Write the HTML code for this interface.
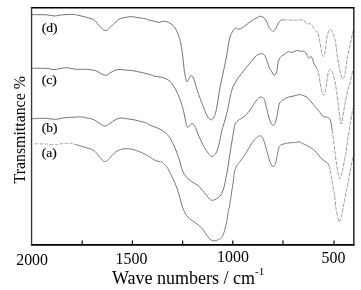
<!DOCTYPE html>
<html><head><meta charset="utf-8"><style>
html,body{margin:0;padding:0;background:#fff;}
body{width:361px;height:290px;overflow:hidden;position:relative;}
svg{position:absolute;left:0;top:0;filter:grayscale(1);}
</style></head><body>
<svg width="361" height="290" viewBox="0 0 361 290">
<g fill="none" stroke-linejoin="round" stroke-linecap="butt">
<path d="M31.5,14.7 C32.9,14.7 37.3,14.7 40.0,14.7 C42.7,14.7 45.1,14.7 47.5,14.9 C49.9,15.1 52.3,15.9 54.2,16.0 C56.1,16.1 57.4,15.5 59.0,15.3 C60.6,15.1 61.9,14.8 64.0,14.7 C66.1,14.5 69.6,14.4 71.7,14.4 C73.8,14.4 74.9,14.6 76.5,14.9 C78.1,15.2 79.8,15.6 81.4,16.0 C83.0,16.4 84.6,16.9 86.2,17.3 C87.8,17.8 89.6,18.1 91.1,18.7 C92.6,19.3 93.5,19.4 95.0,20.7 C96.5,22.0 98.3,25.0 100.0,26.7 C101.7,28.4 103.6,30.5 105.3,30.6 C107.0,30.7 108.4,28.9 110.0,27.5 C111.6,26.1 113.3,24.0 115.0,22.5 C116.7,21.0 118.3,19.5 120.0,18.7 C121.7,17.9 123.1,17.8 125.0,17.5 C126.9,17.2 129.1,16.6 131.6,16.7 C134.1,16.8 137.8,17.7 140.0,18.0 C142.2,18.3 143.3,18.3 145.0,18.7 C146.7,19.1 148.3,19.9 150.0,20.3 C151.7,20.7 153.5,20.9 155.0,21.3 C156.5,21.7 157.8,22.5 159.2,22.5 C160.6,22.5 161.8,21.2 163.3,21.2 C164.8,21.1 166.6,21.4 168.3,22.2 C170.0,23.0 171.9,24.4 173.3,25.8 C174.7,27.2 175.7,28.7 176.7,30.8 C177.7,32.9 178.8,35.9 179.5,38.3 C180.2,40.7 180.5,41.9 181.1,45.0 C181.7,48.1 182.3,53.0 182.8,57.0 C183.3,61.0 183.7,65.6 184.1,69.0 C184.5,72.4 185.0,75.4 185.5,77.5 C186.0,79.6 186.4,81.6 187.0,81.8 C187.6,82.0 188.3,79.6 189.0,78.6 C189.7,77.6 190.2,75.7 191.0,75.6 C191.8,75.5 192.6,76.3 193.5,78.2 C194.4,80.1 195.4,84.5 196.2,87.0 C197.0,89.5 197.6,91.6 198.3,93.5 C199.0,95.4 199.4,96.3 200.2,98.5 C201.0,100.7 202.2,103.9 203.3,106.7 C204.4,109.5 205.8,113.3 207.0,115.5 C208.2,117.7 209.6,119.5 210.8,119.8 C212.0,120.0 213.1,118.9 214.1,117.0 C215.1,115.1 215.9,111.7 216.6,108.5 C217.3,105.3 217.8,101.1 218.3,98.0 C218.8,94.9 219.1,93.0 219.6,90.0 C220.1,87.0 220.8,83.6 221.6,80.0 C222.3,76.4 223.3,72.3 224.1,68.3 C224.9,64.3 225.8,60.7 226.6,56.0 C227.4,51.3 228.4,43.8 229.2,40.0 C230.0,36.2 230.8,35.1 231.6,33.3 C232.4,31.5 233.4,30.1 234.1,29.2 C234.8,28.3 235.0,28.0 235.8,28.0 C236.7,28.0 237.9,29.4 239.2,29.2 C240.4,29.0 241.8,28.0 243.3,27.0 C244.8,26.0 246.6,24.5 248.3,23.3 C250.0,22.1 251.6,20.8 253.3,19.7 C255.0,18.6 257.1,17.6 258.3,17.0 C259.6,16.4 259.8,16.1 260.8,16.3 C261.8,16.5 263.1,17.1 264.1,18.0 C265.1,18.9 265.8,20.1 266.6,21.7 C267.4,23.3 268.3,26.1 269.1,27.5 C269.9,28.9 270.9,29.7 271.6,30.3 C272.3,30.9 272.6,31.6 273.3,31.3 C274.0,31.0 275.0,29.6 275.8,28.3 C276.6,27.0 277.5,24.6 278.3,23.3 C279.1,22.0 280.0,20.9 280.8,20.3 C281.6,19.8 281.8,20.1 283.3,20.0" stroke="#727272" stroke-width="1"/>
<path d="M283.3,20.0 C284.8,19.9 287.8,19.9 290.0,20.0 C292.2,20.1 294.9,20.3 296.6,20.3 C298.3,20.3 298.9,19.7 300.0,19.8 C301.1,19.8 302.4,20.1 303.3,20.5 C304.2,20.9 304.8,21.6 305.5,22.2 C306.2,22.8 307.1,24.0 307.8,24.2 C308.6,24.4 309.3,23.3 310.0,23.5 C310.7,23.7 311.5,24.5 312.2,25.5 C312.9,26.5 313.8,28.4 314.4,29.4 C315.0,30.4 315.5,30.8 316.1,31.3 C316.7,31.8 317.3,31.3 317.8,32.2 C318.3,33.1 318.6,35.0 318.9,36.6 C319.2,38.2 319.5,39.9 319.8,41.6 C320.1,43.3 320.4,45.0 320.8,47.0 C321.2,49.0 321.6,51.9 322.0,53.5 C322.4,55.1 323.0,56.8 323.5,56.5 C324.0,56.2 324.8,54.1 325.2,51.7 C325.6,49.3 325.8,45.0 326.2,42.0 C326.6,39.0 327.1,35.6 327.8,33.5 C328.5,31.4 329.5,29.1 330.5,29.4 C331.5,29.7 333.0,33.5 333.8,35.5 C334.6,37.5 335.0,38.9 335.5,41.6 C336.0,44.3 336.2,48.0 336.7,51.7 C337.2,55.4 338.1,60.8 338.7,64.0 C339.2,67.2 339.5,68.8 340.0,71.0 C340.5,73.2 341.2,75.7 341.6,77.0 C342.1,78.3 342.2,79.2 342.7,79.0 C343.2,78.8 344.1,77.3 344.6,76.0 C345.1,74.7 345.0,74.2 345.5,71.0 C346.0,67.8 346.8,61.0 347.5,56.7 C348.2,52.4 349.3,48.1 350.0,45.0 C350.7,41.9 351.2,40.0 351.6,38.0 C352.0,36.0 352.3,34.2 352.5,33.0 C352.7,31.8 352.9,31.3 353.0,31.0" stroke="#9e9e9e" stroke-width="1" stroke-dasharray="4 1.2"/>
<path d="M31.5,68.3 C34.1,68.3 43.4,68.2 47.0,68.4 C50.6,68.6 51.1,69.6 53.3,69.6 C55.5,69.6 57.8,68.9 60.0,68.6 C62.2,68.3 64.0,67.7 66.8,67.8 C69.5,67.9 73.3,69.0 76.5,69.3 C79.7,69.5 83.8,69.2 86.2,69.3 C88.6,69.4 89.5,69.5 91.1,69.8 C92.7,70.0 94.5,70.3 96.0,70.8 C97.5,71.3 98.4,72.2 100.0,73.0 C101.6,73.8 104.1,75.3 105.8,75.3 C107.5,75.3 108.5,73.8 110.0,73.0 C111.5,72.2 113.3,70.9 115.0,70.3 C116.7,69.7 118.3,69.5 120.0,69.5 C121.7,69.5 122.8,69.8 125.0,70.0 C127.2,70.2 130.5,70.4 133.3,70.8 C136.1,71.2 138.8,71.9 141.6,72.5 C144.4,73.1 147.8,74.0 150.0,74.6 C152.2,75.2 153.3,75.9 155.0,76.3 C156.7,76.7 158.3,76.7 160.0,77.0 C161.7,77.3 163.3,77.6 165.0,78.3 C166.7,79.0 168.5,79.9 170.0,81.3 C171.5,82.7 172.8,84.7 174.1,86.7 C175.3,88.7 176.4,91.0 177.5,93.3 C178.6,95.6 179.7,98.4 180.5,100.8 C181.3,103.2 182.0,105.5 182.6,107.5 C183.2,109.5 183.6,111.1 184.0,113.0 C184.4,114.9 184.8,117.1 185.2,119.0 C185.6,120.9 185.8,122.9 186.2,124.3 C186.6,125.7 187.0,127.5 187.6,127.6 C188.2,127.7 189.2,125.6 190.0,125.0 C190.8,124.4 191.6,123.4 192.5,123.8 C193.4,124.2 194.5,125.6 195.5,127.5 C196.5,129.4 197.3,132.6 198.3,135.0 C199.3,137.4 200.6,139.9 201.6,142.0 C202.6,144.1 203.4,145.6 204.5,147.5 C205.6,149.4 207.1,151.8 208.3,153.3 C209.5,154.8 210.3,156.7 211.6,156.7 C212.8,156.7 214.7,155.0 215.8,153.3 C216.9,151.6 217.6,149.2 218.3,146.7 C219.1,144.2 219.7,141.1 220.3,138.3 C220.9,135.5 221.2,133.1 222.0,130.0 C222.8,127.0 223.9,123.9 225.0,120.0 C226.1,116.1 227.5,110.5 228.3,106.7 C229.1,103.0 229.3,100.6 230.0,97.5 C230.7,94.4 231.4,90.9 232.5,88.0 C233.6,85.1 235.2,82.5 236.7,80.0 C238.2,77.5 239.8,75.8 241.7,73.3 C243.6,70.8 246.4,67.3 248.3,65.0 C250.2,62.6 251.9,60.8 253.3,59.2 C254.7,57.6 255.4,56.2 256.7,55.3 C257.9,54.4 259.6,53.8 260.8,53.7 C262.1,53.6 263.2,53.7 264.2,54.7 C265.2,55.8 265.9,57.9 266.7,60.0 C267.5,62.1 268.4,65.5 269.2,67.5 C270.0,69.5 270.9,70.4 271.7,71.7 C272.5,73.0 273.4,75.3 274.2,75.3 C275.0,75.3 276.0,74.0 276.7,71.7 C277.4,69.4 277.6,64.2 278.3,61.7 C279.0,59.2 279.8,57.9 280.8,56.7 C281.8,55.5 282.9,55.5 284.2,54.7 C285.4,53.9 287.1,52.1 288.3,51.7 C289.6,51.3 290.3,52.7 291.7,52.5 C293.1,52.3 295.2,50.7 296.7,50.5 C298.2,50.3 299.6,51.2 300.8,51.3 C302.1,51.4 303.2,50.8 304.2,51.3 C305.2,51.8 305.9,53.0 306.7,54.2 C307.4,55.4 308.0,57.9 308.7,58.3 C309.4,58.6 310.2,56.1 310.8,56.3 C311.4,56.4 311.9,57.9 312.5,59.2 C313.1,60.5 313.5,62.7 314.2,64.2 C314.9,65.7 316.0,67.0 316.7,68.3" stroke="#727272" stroke-width="1"/>
<path d="M316.7,68.3 C317.4,69.6 317.8,70.2 318.3,72.0 C318.8,73.8 319.1,76.8 319.5,79.0 C319.9,81.2 320.1,82.8 320.5,85.0 C320.9,87.2 321.6,90.4 322.1,92.1 C322.6,93.8 323.1,95.2 323.6,95.2 C324.1,95.2 324.7,94.2 325.2,92.1 C325.7,90.0 326.2,86.1 326.7,82.8 C327.2,79.5 327.8,74.7 328.3,72.5 C328.9,70.3 329.3,69.7 330.0,69.7 C330.7,69.7 331.7,70.5 332.5,72.5 C333.3,74.5 334.3,78.6 335.0,81.7 C335.7,84.8 335.9,87.0 336.5,91.0 C337.1,95.0 337.9,101.8 338.4,106.0 C338.9,110.2 339.2,113.0 339.6,116.0 C340.0,119.0 340.5,123.7 341.0,124.0 C341.5,124.3 342.0,121.0 342.6,118.0 C343.2,115.0 343.8,110.6 344.6,106.0 C345.5,101.4 346.8,94.3 347.7,90.5 C348.6,86.7 349.4,85.4 350.0,83.0 C350.6,80.6 351.0,78.2 351.5,76.0 C352.0,73.8 352.8,71.0 353.0,70.0" stroke="#9e9e9e" stroke-width="1" stroke-dasharray="4 1.2"/>
<path d="M31.5,118.8 C33.7,118.7 40.7,118.2 44.5,118.3 C48.3,118.4 51.8,119.2 54.2,119.3 C56.6,119.4 57.5,119.0 59.1,118.8 C60.7,118.5 61.9,118.0 64.0,117.8 C66.1,117.5 68.8,117.4 71.7,117.3 C74.6,117.2 78.8,116.8 81.4,116.9 C84.0,117.0 85.6,117.7 87.2,118.0 C88.8,118.3 89.8,118.4 91.1,118.8 C92.4,119.2 93.5,119.5 95.0,120.3 C96.5,121.1 98.3,122.7 100.0,123.7 C101.7,124.7 103.3,126.3 105.0,126.2 C106.7,126.1 108.3,124.3 110.0,123.3 C111.7,122.3 113.3,120.9 115.0,120.0 C116.7,119.1 118.1,118.2 120.0,118.0 C121.9,117.8 124.1,118.4 126.6,118.7 C129.1,119.0 132.5,119.5 135.0,120.0 C137.5,120.5 139.7,121.2 141.6,121.7 C143.5,122.2 145.2,122.4 146.6,123.0 C148.0,123.6 148.6,124.5 150.0,125.2 C151.4,125.9 153.3,126.3 155.0,127.0 C156.7,127.7 158.3,128.3 160.0,129.2 C161.7,130.1 163.5,131.2 165.0,132.5 C166.5,133.8 167.9,135.0 169.2,136.7 C170.4,138.4 171.4,140.3 172.5,142.5 C173.6,144.7 174.8,147.6 175.8,150.0 C176.8,152.4 177.6,154.7 178.3,156.7 C179.0,158.7 179.4,160.1 180.0,162.0 C180.6,163.9 180.9,166.2 181.6,168.3 C182.3,170.4 183.3,172.8 184.4,174.5 C185.5,176.2 186.5,177.4 187.9,178.7 C189.3,180.0 191.0,181.0 192.7,182.2 C194.4,183.3 196.6,184.2 198.2,185.6 C199.8,187.0 201.0,188.9 202.4,190.5 C203.8,192.1 205.4,193.9 206.6,195.3 C207.8,196.7 208.5,198.2 209.5,199.0 C210.5,199.8 211.3,200.4 212.5,200.3 C213.7,200.2 215.3,199.6 216.7,198.7 C218.1,197.8 219.6,197.0 220.8,195.0 C222.1,193.0 223.4,189.5 224.2,186.7 C225.0,183.9 225.2,181.1 225.8,178.3 C226.4,175.5 227.0,173.1 227.5,170.0 C228.0,166.9 228.5,163.3 229.0,160.0 C229.5,156.7 230.0,153.2 230.5,150.0 C231.0,146.8 231.5,144.0 232.0,141.0 C232.5,138.0 233.0,134.8 233.5,132.0 C234.0,129.2 234.3,126.1 235.0,124.2 C235.7,122.3 236.4,121.8 237.5,120.8 C238.6,119.8 240.2,119.4 241.7,118.3 C243.2,117.2 245.0,116.0 246.7,114.2 C248.4,112.4 250.0,109.9 251.7,107.5 C253.4,105.1 255.2,101.8 256.7,100.0 C258.2,98.2 259.6,97.1 260.8,97.0 C262.1,96.9 263.4,97.9 264.2,99.2 C265.0,100.5 265.1,102.4 265.8,105.0 C266.5,107.6 267.5,112.1 268.3,115.0 C269.1,117.9 270.0,120.8 270.8,122.5 C271.6,124.2 272.2,125.3 273.0,125.3 C273.8,125.3 274.6,124.5 275.3,122.5 C276.1,120.5 276.9,116.3 277.5,113.3 C278.1,110.2 278.5,106.3 279.2,104.2 C279.9,102.1 281.0,101.5 281.7,100.8 C282.4,100.1 282.5,100.5 283.3,100.0 C284.1,99.5 285.3,98.3 286.6,97.7 C287.9,97.1 289.6,97.0 291.1,96.6 C292.6,96.2 294.1,95.8 295.5,95.5 C296.9,95.2 298.1,94.6 299.4,94.6 C300.7,94.6 302.1,95.1 303.3,95.5 C304.5,95.9 305.5,96.4 306.6,97.2 C307.7,98.0 308.8,99.3 309.9,100.5 C311.0,101.7 312.1,103.1 313.2,104.4 C314.3,105.7 315.6,107.1 316.6,108.3 C317.6,109.5 318.3,110.2 319.3,111.5 C320.3,112.8 321.6,115.1 322.8,116.1 C324.0,117.0 325.8,116.9 326.7,117.2 C327.6,117.5 327.6,117.2 328.3,117.8 C329.0,118.4 330.0,118.8 330.6,120.9 C331.2,123.0 331.6,126.8 332.1,130.2" stroke="#727272" stroke-width="1"/>
<path d="M332.1,130.2 C332.6,133.5 333.2,136.9 333.7,141.0 C334.2,145.1 334.8,150.9 335.3,155.0 C335.8,159.1 336.3,162.2 336.8,165.5 C337.3,168.8 337.9,172.6 338.4,174.8 C338.9,177.0 339.3,179.2 339.9,178.7 C340.5,178.2 341.4,174.9 342.2,171.7 C343.0,168.5 344.0,162.7 344.6,159.3 C345.2,156.0 345.6,154.9 346.1,151.6 C346.6,148.3 347.1,143.8 347.7,139.5 C348.3,135.2 349.2,130.2 350.0,125.5 C350.8,120.8 351.8,114.5 352.3,111.6 C352.8,108.7 352.9,108.6 353.0,108.0" stroke="#9e9e9e" stroke-width="1" stroke-dasharray="4 1.2"/>
<path d="M34.8,143.8 C36.8,143.8 43.8,143.9 46.5,144.0 C49.2,144.1 49.4,144.5 51.0,144.6 C52.6,144.7 54.7,144.7 56.2,144.6 C57.7,144.5 58.5,144.2 60.0,144.0 C61.5,143.8 63.0,143.4 65.0,143.3 C67.0,143.2 70.1,143.4 71.7,143.6 C73.3,143.8 73.0,143.9 74.6,144.3" stroke="#a8a8a8" stroke-width="1" stroke-dasharray="3.5 1.5"/>
<path d="M74.6,144.3 C76.2,144.7 79.5,145.6 81.4,146.2 C83.3,146.8 84.6,147.2 86.2,147.7 C87.8,148.2 89.6,148.5 91.1,149.2 C92.6,149.8 93.5,150.2 95.0,151.6 C96.5,152.9 98.8,155.9 100.0,157.3 C101.2,158.7 101.6,159.5 102.3,160.2 C103.0,160.9 103.7,161.4 104.4,161.6 C105.1,161.8 105.8,161.5 106.5,161.2 C107.2,160.8 107.4,160.7 108.5,159.5 C109.6,158.3 111.7,155.7 113.3,154.2 C114.9,152.7 116.3,151.2 118.3,150.3 C120.2,149.4 122.8,148.9 125.0,148.7 C127.2,148.5 129.4,148.8 131.6,149.2 C133.8,149.6 136.1,150.5 138.3,151.3 C140.5,152.1 143.1,153.2 145.0,154.2 C146.9,155.1 148.3,156.0 150.0,157.0 C151.7,158.0 153.3,159.5 155.0,160.3 C156.7,161.1 158.8,161.3 160.0,161.7 C161.2,162.1 161.4,161.7 162.5,162.5 C163.6,163.3 165.6,165.3 166.7,166.7 C167.8,168.1 168.2,169.2 169.2,171.1 C170.2,173.0 171.6,175.8 172.6,178.0 C173.6,180.2 174.5,181.9 175.4,184.2 C176.3,186.5 177.4,189.4 178.2,191.9 C179.0,194.4 179.5,196.5 180.2,199.0 C180.9,201.5 181.4,204.2 182.5,207.0 C183.6,209.8 185.0,213.5 186.7,215.8 C188.4,218.1 190.6,219.3 192.5,220.8 C194.4,222.3 196.5,223.5 198.3,225.0 C200.1,226.5 201.9,228.3 203.3,230.0 C204.7,231.7 205.6,233.5 206.7,235.0 C207.8,236.5 208.9,238.2 210.0,239.2 C211.1,240.2 212.1,240.7 213.3,240.8 C214.6,240.9 216.1,240.6 217.5,240.0 C218.9,239.4 220.6,238.9 221.7,237.5 C222.8,236.1 223.4,234.3 224.2,231.7 C225.0,229.1 226.0,225.0 226.7,221.7 C227.4,218.4 227.8,214.5 228.3,211.7 C228.8,208.9 229.2,208.1 229.7,205.0 C230.2,201.9 230.9,197.2 231.5,193.0 C232.1,188.8 233.0,183.5 233.5,180.0 C234.0,176.5 233.9,174.4 234.4,172.0 C234.9,169.6 235.9,167.4 236.7,165.8 C237.5,164.2 238.4,163.6 239.2,162.5 C240.0,161.4 240.9,160.3 241.7,159.2 C242.5,158.1 243.4,157.1 244.2,155.8 C245.0,154.6 245.9,153.1 246.7,151.7 C247.5,150.3 248.4,148.9 249.2,147.5 C250.0,146.1 250.9,144.6 251.7,143.3 C252.5,142.1 253.4,141.0 254.2,140.0 C255.0,139.0 255.8,138.2 256.7,137.5 C257.6,136.8 258.7,135.8 259.7,135.8 C260.7,135.8 261.6,136.1 262.5,137.5 C263.4,138.9 264.2,141.6 265.0,144.2 C265.8,146.8 266.7,150.4 267.5,153.3 C268.3,156.2 269.1,159.5 270.0,161.7 C270.9,163.9 272.0,166.6 273.0,166.7 C274.0,166.8 275.1,164.6 275.8,162.5 C276.6,160.4 276.9,156.8 277.5,154.2 C278.1,151.6 278.5,148.3 279.2,146.7 C279.9,145.1 280.5,145.3 281.7,144.7 C282.9,144.1 285.0,143.6 286.6,143.3 C288.2,143.0 289.6,142.8 291.1,142.7 C292.6,142.6 294.1,142.7 295.5,142.5 C296.9,142.3 298.3,141.7 299.4,141.8 C300.5,141.9 301.0,142.7 302.2,143.3 C303.4,143.9 305.3,144.7 306.6,145.3 C307.9,146.0 308.8,146.5 309.9,147.2 C311.0,147.9 312.1,148.5 313.2,149.4 C314.3,150.3 315.6,151.6 316.6,152.7 C317.6,153.8 318.4,154.9 319.3,156.0 C320.2,157.1 320.9,158.2 322.1,159.3 C323.3,160.4 325.6,161.4 326.7,162.4 C327.8,163.4 328.4,163.7 329.0,165.5" stroke="#7a7a7a" stroke-width="1"/>
<path d="M329.0,165.5 C329.6,167.3 330.1,170.7 330.6,173.3 C331.1,175.9 331.6,178.2 332.1,181.0 C332.6,183.8 333.3,188.0 333.7,190.3 C334.1,192.6 334.1,191.9 334.5,195.0 C334.9,198.1 335.4,204.5 336.0,208.6 C336.6,212.7 337.8,217.3 338.4,219.5 C339.0,221.7 338.9,222.3 339.4,221.8 C339.9,221.3 340.8,219.4 341.5,216.4 C342.2,213.4 343.0,208.1 343.8,204.0 C344.6,199.9 345.5,194.9 346.1,191.6 C346.8,188.3 347.1,187.4 347.7,184.1 C348.3,180.8 349.2,175.7 350.0,171.7 C350.8,167.7 351.8,162.5 352.3,160.1 C352.8,157.7 352.9,157.5 353.0,157.0" stroke="#9e9e9e" stroke-width="1" stroke-dasharray="4 1.2"/>
</g>
<g stroke="#000" fill="none">
<path d="M30.9,7.7H354.6" stroke-width="1.6"/>
<path d="M30.9,244.8H354.6" stroke-width="1.65"/>
<path d="M31.55,7H31.55V245.5" stroke="#383838" stroke-width="1.35"/>
<path d="M353.8,7V245.5" stroke="#333" stroke-width="1.6"/>
<path d="M82.2,244.5V240.6 M132.4,244.5V240.6 M182.6,244.5V240.6 M232.8,244.5V240.6 M283,244.5V240.6 M334,244.5V240.6" stroke-width="1.2"/>
</g>
<g font-family="Liberation Serif" font-size="13.5" fill="#000" stroke="#000" stroke-width="0.18">
<text x="41.8" y="32">(d)</text>
<text x="41.8" y="84">(c)</text>
<text x="41.8" y="132">(b)</text>
<text x="41.8" y="157">(a)</text>
</g>
<g font-family="Liberation Serif" font-size="15.9" fill="#000">
<text x="16.2" y="264.9">2000</text>
<text x="115.6" y="263.5">1500</text>
<text x="217.1" y="262.4">1000</text>
<text x="321.5" y="262.7">500</text>
</g>
<text x="112" y="284" font-family="Liberation Serif" font-size="18" fill="#000">Wave numbers / cm<tspan font-size="11" dy="-8.8">-1</tspan></text>
<text transform="translate(24.7,183.4) rotate(-90)" font-family="Liberation Serif" font-size="15.85" fill="#000">Transmittance %</text>
</svg>
</body></html>
